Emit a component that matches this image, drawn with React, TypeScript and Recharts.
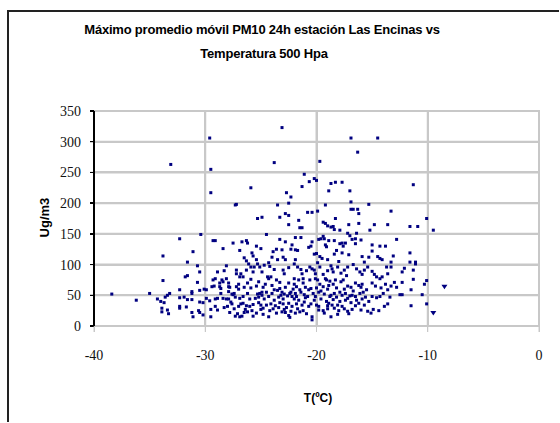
import React from 'react';
import { ScatterChart, Scatter, XAxis, YAxis, CartesianGrid } from 'recharts';

const xTicks = [-40, -30, -20, -10, 0];
const yTicks = [0, 50, 100, 150, 200, 250, 300, 350];
const xDomain: [number, number] = [-40, 0];
const yDomain: [number, number] = [0, 350];

// [temperature °C, PM10 ug/m3]
const ptsFar: [number, number][] = [
  [-38.4, 52], [-36.2, 42], [-35.0, 53], [-33.1, 263], [-32.3, 142], [-30.4, 149], [-31.1, 121], [-33.8, 114],
  [-31.6, 104], [-30.7, 98], [-31.8, 80], [-31.6, 82], [-30.5, 88], [-33.8, 74], [-30.7, 71], [-33.2, 53],
  [-33.4, 50], [-33.6, 47], [-32.3, 59], [-31.2, 53], [-31.2, 56], [-30.5, 58], [-30.1, 60], [-34.3, 44],
  [-34.0, 40], [-33.7, 38], [-32.3, 46], [-31.9, 47], [-31.6, 43], [-31.2, 43], [-30.5, 39], [-30.2, 38],
  [-33.9, 29], [-33.4, 26], [-32.3, 32], [-32.3, 29], [-31.7, 31], [-31.2, 22], [-30.6, 25], [-30.5, 22],
  [-30.2, 18], [-33.9, 23], [-33.3, 20], [-31.1, 15],
];

const ptsWest: [number, number][] = [
  [-29.9, 45], [-29.6, 41], [-29.6, 306], [-29.5, 255], [-29.5, 217], [-29.3, 139], [-29.1, 139], [-28.4, 126],
  [-28.1, 98], [-28.9, 88], [-28.3, 90], [-29.3, 75], [-29.1, 77], [-28.5, 75], [-28.4, 72], [-28.1, 77],
  [-28.7, 70], [-27.9, 70], [-29.4, 64], [-29.2, 65], [-28.7, 64], [-28.6, 61], [-28.6, 53], [-27.9, 64],
  [-27.9, 56], [-29.1, 44], [-28.9, 45], [-28.4, 45], [-28.1, 44], [-27.9, 44], [-29.5, 15], [-29.5, 27],
  [-29.1, 32], [-28.9, 26], [-28.3, 30], [-28.0, 32], [-29.9, 59],
];

const ptsMidWest: [number, number][] = [
  [-20.8, 185], [-22.8, 183], [-22.5, 180], [-22.5, 165], [-21.6, 172], [-21.5, 160], [-21.3, 160], [-24.5, 149],
  [-23.3, 141], [-21.9, 144], [-21.4, 144], [-27.5, 135], [-26.7, 137], [-26.3, 139], [-26.2, 135], [-22.8, 137],
  [-22.2, 132], [-23.9, 121], [-23.6, 125], [-23.1, 124], [-22.3, 125], [-21.9, 124], [-21.7, 123], [-26.9, 123],
  [-25.8, 119], [-25.7, 114], [-25.0, 126], [-20.7, 128],
  [-26.5, 111], [-26.3, 106], [-26.1, 101], [-25.4, 108], [-25.3, 101], [-25.1, 96], [-24.7, 99], [-25.9, 96],
  [-25.6, 96], [-27.2, 91], [-27.2, 85], [-26.9, 80], [-26.3, 91], [-24.3, 103], [-24.2, 97], [-23.5, 108],
  [-23.0, 112], [-22.8, 108], [-22.0, 101], [-21.9, 108], [-21.7, 96], [-21.4, 92], [-21.3, 85], [-20.9, 90],
  [-26.6, 80], [-25.9, 76], [-24.4, 80], [-24.3, 77], [-24.1, 80], [-23.3, 71], [-23.0, 91], [-22.9, 85],
  [-22.0, 77], [-21.6, 75], [-21.2, 77],
  [-27.8, 63], [-27.2, 64], [-27.0, 60], [-26.5, 63], [-25.9, 62], [-25.4, 65], [-24.8, 63], [-23.8, 59],
  [-23.3, 61], [-23.1, 55], [-22.8, 63], [-22.3, 55], [-22.1, 60], [-21.8, 64], [-21.5, 59], [-21.0, 63],
  [-20.7, 59],
  [-27.5, 51], [-27.4, 53], [-27.3, 47], [-26.6, 48], [-26.2, 53], [-25.3, 52], [-25.1, 53], [-24.9, 55],
  [-24.9, 50], [-24.3, 48], [-24.0, 53], [-23.4, 47], [-23.2, 50], [-23.0, 44], [-22.6, 49], [-22.4, 53],
  [-22.2, 48], [-21.9, 53], [-21.8, 48], [-21.4, 55], [-21.1, 51], [-20.8, 48],
  [-27.7, 39], [-27.6, 36], [-27.0, 32], [-26.8, 36], [-26.6, 37], [-26.3, 33], [-26.0, 32], [-25.7, 35],
  [-25.2, 38], [-25.0, 34], [-24.8, 29], [-24.5, 34], [-24.1, 36], [-23.7, 33], [-23.3, 38], [-23.0, 36],
  [-22.5, 37], [-22.2, 32], [-21.8, 36], [-21.3, 34], [-21.1, 39], [-20.7, 32],
  [-27.8, 22], [-27.3, 16], [-27.1, 20], [-26.9, 15], [-26.7, 16], [-26.5, 22], [-26.2, 23], [-25.7, 16],
  [-25.4, 21], [-24.8, 19], [-24.3, 15], [-23.6, 21], [-23.1, 23], [-22.8, 22], [-22.5, 17], [-22.4, 14],
  [-21.9, 21], [-21.5, 23], [-21.2, 25],
  [-27.6, 52], [-26.9, 45], [-26.0, 44], [-25.5, 45], [-25.2, 47], [-24.7, 44], [-24.5, 55], [-23.8, 42],
  [-23.5, 58], [-22.9, 52], [-22.7, 30], [-22.0, 44], [-21.6, 42], [-21.0, 46], [-20.9, 20], [-26.4, 27],
  [-25.8, 25], [-25.0, 27], [-24.2, 25], [-23.9, 28], [-23.4, 30], [-22.9, 27], [-22.3, 24], [-21.7, 28],
  [-27.4, 28], [-27.0, 68], [-26.2, 70], [-25.2, 72], [-24.6, 68], [-24.0, 66], [-23.6, 75], [-22.5, 70],
  [-22.0, 68], [-21.2, 70], [-26.8, 85], [-25.7, 88], [-24.9, 88], [-23.8, 92], [-22.5, 95], [-24.0, 112],
  [-25.4, 130],
];

const ptsMidEast: [number, number][] = [
  [-20.4, 185], [-19.9, 187], [-19.2, 197], [-16.9, 202], [-15.3, 198], [-16.9, 190], [-16.7, 190], [-16.3, 190],
  [-16.2, 183], [-18.3, 175], [-19.4, 169], [-19.2, 167], [-19.0, 163], [-18.7, 161], [-18.5, 162], [-18.4, 157],
  [-17.9, 156], [-17.1, 165], [-16.2, 167], [-14.8, 165], [-15.2, 156], [-13.6, 165],
  [-17.2, 151], [-17.0, 147], [-16.8, 141], [-16.5, 142], [-16.4, 151], [-16.0, 140], [-19.4, 146], [-19.3, 142],
  [-19.8, 141], [-19.6, 142], [-18.9, 139], [-18.4, 139], [-20.4, 137], [-20.5, 130], [-19.2, 132], [-19.1, 129],
  [-17.9, 134], [-17.7, 135], [-17.6, 130], [-17.4, 135], [-16.5, 134], [-15.0, 132], [-14.3, 130], [-13.8, 130],
  [-18.4, 117], [-18.2, 123], [-17.7, 119], [-20.2, 117], [-20.0, 118], [-19.7, 113], [-19.5, 110], [-17.1, 116],
  [-15.0, 122], [-14.5, 113], [-14.3, 110], [-14.1, 108], [-15.9, 113], [-15.7, 104], [-15.3, 112],
  [-20.6, 96], [-20.4, 93], [-20.2, 91], [-19.7, 96], [-19.4, 84], [-19.2, 77], [-19.0, 108], [-18.7, 98],
  [-18.6, 93], [-18.5, 88], [-18.1, 96], [-17.8, 86], [-17.5, 91], [-17.2, 96], [-16.4, 93], [-16.1, 88],
  [-15.9, 84], [-15.7, 91], [-15.4, 96], [-15.0, 89], [-14.8, 84], [-14.6, 80], [-14.3, 77], [-14.1, 80],
  [-13.7, 96], [-13.6, 85],
  [-20.6, 75], [-20.1, 77], [-19.9, 75], [-19.7, 68], [-19.1, 75], [-18.8, 73], [-18.5, 68], [-18.3, 75],
  [-17.8, 72], [-17.6, 75], [-17.2, 65], [-16.9, 63], [-16.5, 70], [-16.2, 66], [-16.0, 63], [-15.5, 59],
  [-15.0, 70], [-14.7, 65], [-14.2, 62], [-13.8, 68],
  [-20.5, 61], [-20.3, 53], [-20.1, 48], [-19.8, 55], [-19.6, 57], [-19.3, 52], [-19.0, 60], [-18.8, 48],
  [-18.7, 50], [-18.4, 53], [-18.2, 47], [-17.9, 55], [-17.7, 50], [-17.4, 53], [-17.2, 45], [-17.0, 49],
  [-16.8, 50], [-16.5, 48], [-16.1, 53], [-15.8, 55], [-15.6, 47], [-15.0, 48], [-14.6, 46], [-14.3, 48],
  [-14.0, 53], [-13.6, 59],
  [-20.5, 36], [-20.0, 34], [-19.8, 32], [-19.4, 25], [-19.3, 21], [-19.0, 33], [-18.9, 37], [-18.6, 34],
  [-18.4, 29], [-18.1, 34], [-17.7, 32], [-17.2, 24], [-17.1, 20], [-16.5, 33], [-16.2, 37], [-15.7, 34],
  [-15.4, 24], [-15.1, 21], [-14.9, 27], [-14.4, 25], [-13.9, 32], [-13.6, 36],
  [-20.4, 15], [-20.4, 10], [-18.7, 15], [-18.1, 19],
  [-20.2, 42], [-19.6, 44], [-19.1, 40], [-18.5, 43], [-17.9, 40], [-17.4, 42], [-16.9, 38], [-16.4, 42],
  [-15.9, 44], [-15.3, 40], [-20.0, 62], [-19.4, 64], [-18.9, 66], [-18.2, 62], [-17.5, 60], [-16.7, 57],
  [-15.9, 68], [-19.8, 26], [-19.0, 28], [-18.0, 25], [-17.5, 28], [-16.8, 27], [-16.0, 26], [-20.1, 85],
  [-19.0, 90], [-17.3, 82], [-16.7, 100], [-18.0, 105], [-19.9, 103],
];

const ptsEast: [number, number][] = [
  [-11.3, 230], [-13.3, 187], [-10.1, 175], [-11.6, 162], [-10.9, 162], [-9.5, 156], [-12.8, 141], [-11.6, 119],
  [-13.1, 114], [-13.3, 104], [-13.3, 96], [-11.6, 104], [-11.1, 104], [-11.1, 101], [-12.1, 94], [-12.3, 88],
  [-11.3, 91], [-13.0, 71], [-12.8, 63], [-13.3, 65], [-12.3, 71], [-11.3, 76], [-10.1, 74], [-10.3, 68],
  [-11.5, 59], [-12.5, 51], [-12.3, 51], [-10.5, 51], [-11.5, 33], [-10.1, 36], [-13.4, 47],
];

const ptsHigh: [number, number][] = [
  [-23.1, 323], [-16.9, 306], [-14.5, 306], [-16.3, 283], [-23.8, 266], [-19.7, 268], [-21.1, 247], [-20.2, 240],
  [-20.0, 237], [-20.65, 235], [-18.7, 232], [-18.3, 234], [-17.7, 234], [-18.9, 220], [-17.0, 220], [-25.9, 225],
  [-21.3, 227], [-22.7, 217], [-22.3, 210], [-27.2, 198], [-27.3, 197], [-23.5, 197], [-22.5, 200], [-25.3, 175],
  [-24.9, 177], [-23.3, 177],
];

const ptsTriangle: [number, number][] = [
  [-8.5, 64], [-9.5, 21],
];

const toPts = (arr: [number, number][]) => arr.map(([t, v]) => ({ t, v }));
const squareData = toPts([...ptsFar, ...ptsWest, ...ptsMidWest, ...ptsMidEast, ...ptsEast, ...ptsHigh]);
const triangleData = toPts(ptsTriangle);

const NAVY = '#000080';
const GRID = '#c8c8c8';
const FONT = '"Liberation Sans", Arial, sans-serif';

const W = 560;
const H = 423;
const M = { top: 111, right: 21, bottom: 67, left: 34 };
const Y_W = 60;
const X_H = 30;
const PL = M.left + Y_W;
const PR = W - M.right;
const PT = M.top;
const PB = H - M.bottom - X_H;
const sx = (t: number) => PL + ((t - xDomain[0]) / (xDomain[1] - xDomain[0])) * (PR - PL);
const sy = (v: number) => PB - ((v - yDomain[0]) / (yDomain[1] - yDomain[0])) * (PB - PT);

const Square = (props: any) => {
  const { cx, cy } = props;
  if (cx == null || cy == null) return null;
  return <rect x={cx - 1.5} y={cy - 1.5} width={3} height={3} fill={NAVY} />;
};

const Tri = (props: any) => {
  const { cx, cy } = props;
  if (cx == null || cy == null) return null;
  return <path d={`M${cx - 3},${cy - 2} L${cx + 3},${cy - 2} L${cx},${cy + 2.5} Z`} fill={NAVY} />;
};

const textBase: React.CSSProperties = {
  position: 'absolute',
  fontFamily: FONT,
  fontWeight: 'bold',
  color: '#000',
  whiteSpace: 'nowrap',
  lineHeight: 1,
};

const bar = (left: number, top: number, width: number, height: number, color: string, key: string) => (
  <div key={key} style={{ position: 'absolute', left, top, width, height, background: color }} />
);

export default function App() {
  return (
    <div style={{ position: 'absolute', left: 0, top: 0, width: W, height: H }}>
      {yTicks.map((v) => bar(PL, sy(v) - 1, PR - PL + 1, 2, GRID, `h${v}`))}
      {xTicks.map((t) => bar(sx(t) - 1, PT, 2, PB - PT, GRID, `v${t}`))}
      {xTicks.map((t) => bar(sx(t) - 0.5, PB, 1, 6, GRID, `xt${t}`))}
      {bar(PL - 1, PT - 1, 2, PB - PT + 2, '#000', 'yaxis')}
      {yTicks.map((v) => bar(PL - 4, sy(v) - 0.75, 4, 1.5, '#000', `yt${v}`))}
      <div style={{ position: 'absolute', left: 0, top: 0 }}>
        <ScatterChart width={W} height={H} margin={M}>
          <CartesianGrid stroke={GRID} strokeWidth={2} />
          <XAxis
            type="number"
            dataKey="t"
            domain={xDomain}
            ticks={xTicks}
            height={X_H}
            axisLine={{ stroke: GRID, strokeWidth: 2 }}
            tickLine={{ stroke: GRID }}
            tickSize={6}
            tickMargin={18}
            tick={{ fill: '#111', fontSize: 14 }}
          />
          <YAxis
            type="number"
            dataKey="v"
            domain={yDomain}
            ticks={yTicks}
            width={Y_W}
            axisLine={{ stroke: '#000', strokeWidth: 2 }}
            tickLine={{ stroke: '#000' }}
            tickSize={4}
            tickMargin={9}
            tick={{ fill: '#111', fontSize: 14 }}
          />
          <Scatter data={squareData} shape={Square} isAnimationActive={false} />
          <Scatter data={triangleData} shape={Tri} isAnimationActive={false} />
        </ScatterChart>
      </div>
      <div style={{ position: 'absolute', left: 7, top: 10, width: 550, height: 410, borderLeft: '2px solid #222', borderTop: '2px solid #222', pointerEvents: 'none' }} />
      <div style={{ ...textBase, left: 64, top: 23, width: 396, fontSize: 13, textAlign: 'center', letterSpacing: -0.2 }}>
        Máximo promedio móvil PM10 24h estación Las Encinas vs
      </div>
      <div style={{ ...textBase, left: 164, top: 47, width: 200, fontSize: 13, textAlign: 'center', letterSpacing: -0.2 }}>
        Temperatura 500 Hpa
      </div>
      <div style={{ ...textBase, left: 268, top: 392, width: 100, fontSize: 12, textAlign: 'center' }}>
        T(ºC)
      </div>
      <div style={{ ...textBase, left: 4, top: 211, width: 80, fontSize: 13, textAlign: 'center', transform: 'rotate(-90deg)' }}>
        Ug/m3
      </div>
    </div>
  );
}
